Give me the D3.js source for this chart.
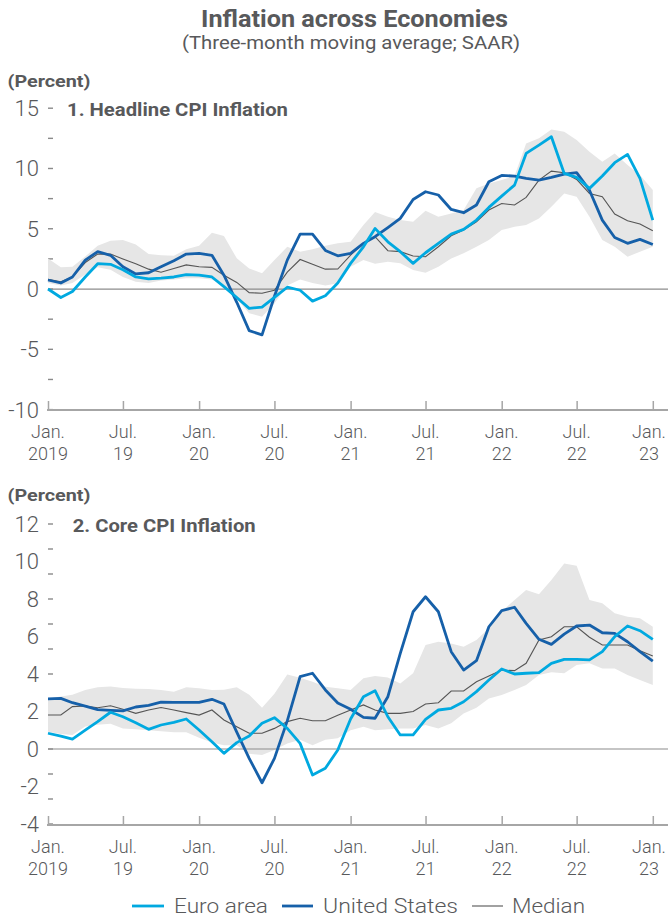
<!DOCTYPE html>
<html><head><meta charset="utf-8">
<script src="https://cdn.jsdelivr.net/npm/d3@7"></script>
<style>
html,body{margin:0;padding:0;background:#fff;}
svg{display:block;font-family:Roboto,"Open Sans",sans-serif;}
</style></head>
<body>
<svg id="chart" width="668" height="917"></svg>
<script>
// ---------- DATA (monthly, Jan 2019 – Jan 2023) ----------
const startMonth = [2019, 0];
const endMonth = [2023, 0];

const euroHead = [0.0,-0.7,-0.2,1.0,2.1,2.05,1.6,1.0,0.85,0.9, 1.0,1.2,1.15,1.0,0.2,-0.7,-1.6,-1.5,-0.7,0.15, -0.1,-1.0,-0.55,0.5,2.13,3.5,5.03,3.92,3.1,2.13, 3.01,3.79,4.56,4.95,5.72,6.77,7.71,8.62,11.25,11.94, 12.63,9.59,9.26,8.35,9.37,10.48,11.17,9.18,5.72];
const usHead   = [0.75,0.5,1.0,2.4,3.1,2.8,1.85,1.25,1.35,1.85, 2.35,2.9,2.95,2.8,1.15,-1.1,-3.45,-3.8,-0.6,2.4, 4.55,4.55,3.2,2.76,2.96,3.79,4.34,5.1,5.86,7.43, 8.07,7.8,6.6,6.33,6.97,8.9,9.42,9.37,9.18,9.04, 9.26,9.54,9.65,8.2,5.72,4.28,3.79,4.12,3.7];
const medHead  = [0.8,0.6,1.0,2.2,2.9,2.9,2.5,2.1,1.65,1.4, 1.7,2.0,1.85,1.8,1.15,0.55,-0.3,-0.35,-0.1,1.4, 2.45,2.05,1.65,1.66,2.82,3.79,4.34,3.18,3.1,2.74, 2.68,3.51,4.42,4.89,5.58,6.55,7.1,6.97,7.6,9.04, 9.78,9.65,9.09,7.93,7.66,6.22,5.67,5.39,4.84];
const hiHead   = [2.54,1.8,1.85,2.7,3.6,4.0,4.06,3.7,2.9,2.8, 2.76,3.3,3.6,4.67,4.4,2.55,1.7,1.3,2.4,3.5, 3.1,3.3,3.6,3.79,3.93,5.31,6.4,6.0,5.72,5.58, 6.49,6.0,6.27,6.55,8.35,8.76,9.04,9.37,12.08,12.5, 13.24,13.05,12.36,11.39,10.56,11.25,10.28,9.45,8.21];
const loHead   = [0.5,0.3,0.5,1.2,1.8,1.6,1.0,0.6,0.5,0.7, 0.8,0.9,0.9,0.8,0.3,-0.8,-2.0,-2.3,-1.2,0.3, 0.8,0.5,0.3,0.47,1.85,2.4,2.1,2.26,2.13,1.58, 1.36,1.85,2.54,2.96,3.51,4.06,4.89,5.17,5.31,5.86, 6.83,7.93,7.66,6.0,4.06,3.51,2.68,3.1,3.51];

const euroCore = [0.84,0.69,0.53,1.01,1.46,1.96,1.72,1.4,1.05,1.28, 1.42,1.6,1.01,0.39,-0.23,0.34,0.69,1.37,1.67,1.1, 0.3,-1.39,-1.03,-0.05,1.6,2.79,3.11,1.72,0.75,0.75, 1.58,2.08,2.17,2.52,3.06,3.68,4.27,4.0,4.04,4.07, 4.57,4.78,4.78,4.75,5.19,5.99,6.56,6.31,5.85];
const usCore   = [2.67,2.7,2.47,2.29,2.1,2.06,2.03,2.24,2.33,2.5, 2.49,2.49,2.49,2.65,2.4,0.9,-0.5,-1.8,-0.5,1.5, 3.86,4.04,3.15,2.45,2.12,1.69,1.64,2.79,5.1,7.32, 8.12,7.32,5.19,4.21,4.71,6.52,7.38,7.56,6.7,5.85, 5.58,6.13,6.56,6.61,6.2,6.17,5.72,5.19,4.69];
const medCore  = [1.81,1.81,2.26,2.29,2.2,2.31,2.12,1.9,2.08,2.21, 2.08,1.94,1.81,2.08,1.55,1.19,0.84,0.84,1.1,1.46, 1.64,1.51,1.51,1.8,2.08,2.35,2.08,1.9,1.9,2.0, 2.4,2.47,3.09,3.09,3.59,3.89,4.21,4.18,4.57,5.81, 5.99,6.52,6.52,5.96,5.55,5.55,5.55,5.24,4.96];
const hiCore   = [2.7,2.8,2.9,3.15,3.3,3.33,3.25,3.22,3.2,3.15, 3.05,3.29,3.24,3.15,3.16,3.3,2.9,2.2,2.95,3.97, 3.8,3.59,3.32,3.24,3.15,3.77,3.89,3.82,3.5,4.04, 5.55,5.72,5.63,5.46,5.81,6.44,7.33,7.95,8.48,8.25, 9.01,9.9,9.78,7.95,7.77,7.24,7.06,6.97,6.52];
const loCore   = [0.92,0.8,0.75,1.2,1.3,1.35,1.1,1.05,1.0,0.95, 0.9,0.9,0.6,0.35,0.2,0.2,-0.25,-0.32,-0.05,0.3, 0.5,0.2,0.5,0.57,1.0,1.19,1.0,1.05,1.1,1.1, 1.28,1.1,1.37,1.9,2.2,2.7,2.88,3.15,3.41,3.95, 4.09,4.04,4.48,4.57,4.3,4.3,3.95,3.68,3.41];

const headYLabels = [15, 10, 5, 0, -5, -10];
const coreYLabels = [12, 10, 8, 6, 4, 2, 0, -2, -4];
const xTickLabels = [["Jan.","2019"],["Jul.","19"],["Jan.","20"],["Jul.","20"],["Jan.","21"],["Jul.","21"],["Jan.","22"],["Jul.","22"],["Jan.","23"]];
const seriesNames = ["Euro area", "United States", "Median"];

// ---------- STYLE ----------
const C = {euro:"#00A9E0", us:"#1660A9", med:"#555555", band:"#E6E6E6", text:"#58595B", axis:"#A6A6A6", zero:"#8C8C8C"};

const svg = d3.select("#chart");
const months = d3.timeMonth.range(new Date(startMonth[0], startMonth[1], 1), new Date(endMonth[0], endMonth[1] + 1, 1));
const x = d3.scaleTime().domain([months[0], months[months.length - 1]]).range([48, 652.8]);
const xTickDates = d3.timeMonth.every(6).range(months[0], new Date(endMonth[0], endMonth[1] + 1, 1));

function fitText(sel, w) {
  sel.attr("textLength", w).attr("lengthAdjust", "spacingAndGlyphs");
}

// titles
svg.append("text").attr("x", 354.5).attr("y", 27).attr("text-anchor", "middle")
  .attr("font-size", 23).attr("font-weight", 700).attr("fill", C.text)
  .text("Inflation across Economies").call(fitText, 307);
svg.append("text").attr("x", 351).attr("y", 48.5).attr("text-anchor", "middle")
  .attr("font-size", 18).attr("font-weight", 400).attr("fill", C.text)
  .text("(Three-month moving average; SAAR)").call(fitText, 338);

const panels = [
  {title: "1. Headline CPI Inflation", titleX: 67, titleY: 116, titleW: 221, percentY: 86.5,
   euro: euroHead, us: usHead, med: medHead, hi: hiHead, lo: loHead,
   domain: [-10, 15], range: [409.6, 108.2], marks: d3.range(-10, 15.01, 2.5), labels: headYLabels, axisY: 410},
  {title: "2. Core CPI Inflation", titleX: 72.7, titleY: 531.7, titleW: 183, percentY: 501,
   euro: euroCore, us: usCore, med: medCore, hi: hiCore, lo: loCore,
   domain: [-4, 12], range: [824, 524], marks: d3.range(-4, 12.01, 4 / 3), labels: coreYLabels, axisY: 825}
];

panels.forEach(p => {
  const y = d3.scaleLinear().domain(p.domain).range(p.range);
  const g = svg.append("g");

  g.append("text").attr("x", 7.5).attr("y", p.percentY).attr("font-size", 17).attr("font-weight", 700)
    .attr("fill", C.text).text("(Percent)").call(fitText, 83);

  // y tick marks
  g.selectAll(".ym").data(p.marks).join("line")
    .attr("x1", 48).attr("x2", 53).attr("y1", d => y(d)).attr("y2", d => y(d))
    .attr("stroke", "#8a8a8a").attr("stroke-width", 1.4);
  // y labels
  g.selectAll(".yl").data(p.labels).join("text")
    .attr("x", 39).attr("y", d => y(d)).attr("dy", "0.36em").attr("text-anchor", "end")
    .attr("font-size", 22).attr("font-weight", 300).attr("fill", C.text)
    .text(d => d);

  // band
  const area = d3.area().x((d, i) => x(months[i])).y0((d, i) => y(p.lo[i])).y1((d, i) => y(p.hi[i]));
  g.append("path").datum(p.hi).attr("d", area).attr("fill", C.band);

  // zero line
  g.append("line").attr("x1", 48).attr("x2", 668).attr("y1", y(0)).attr("y2", y(0))
    .attr("stroke", C.zero).attr("stroke-width", 1.2);

  // x axis
  g.append("line").attr("x1", 47).attr("x2", 668).attr("y1", p.axisY).attr("y2", p.axisY)
    .attr("stroke", C.axis).attr("stroke-width", 2);
  const ax = g.append("g").attr("transform", `translate(0,${p.axisY})`)
    .call(d3.axisBottom(x).tickValues(xTickDates).tickSize(-9).tickSizeOuter(0).tickFormat(""));
  ax.select(".domain").remove();
  ax.selectAll(".tick line").attr("stroke", C.axis).attr("stroke-width", 1.5);
  const lab = g.selectAll(".xl").data(xTickDates).join("text")
    .attr("text-anchor", "middle").attr("font-size", 18).attr("font-weight", 300).attr("fill", C.text);
  lab.each(function(d, i) {
    const t = d3.select(this);
    const cx = Math.min(x(d), 649);
    t.append("tspan").attr("x", cx).attr("y", p.axisY + 28).text(xTickLabels[i][0]);
    t.append("tspan").attr("x", cx).attr("y", p.axisY + 50).text(xTickLabels[i][1]);
  });

  // lines
  const line = d3.line().x((d, i) => x(months[i])).y(d => y(d));
  g.append("path").datum(p.med).attr("d", line).attr("fill", "none").attr("stroke", C.med).attr("stroke-width", 1.1);
  g.append("path").datum(p.us).attr("d", line).attr("fill", "none").attr("stroke", C.us).attr("stroke-width", 2.8).attr("stroke-linejoin", "round");
  g.append("path").datum(p.euro).attr("d", line).attr("fill", "none").attr("stroke", C.euro).attr("stroke-width", 2.8).attr("stroke-linejoin", "round");

  // panel title
  g.append("text").attr("x", p.titleX).attr("y", p.titleY).attr("font-size", 19).attr("font-weight", 700)
    .attr("fill", C.text).text(p.title).call(fitText, p.titleW);
});

// legend
const legendItems = [
  {name: seriesNames[0], color: C.euro, w: 2.8, x1: 132, x2: 164, tx: 174, tw: 94},
  {name: seriesNames[1], color: C.us, w: 2.8, x1: 282, x2: 313, tx: 323, tw: 135},
  {name: seriesNames[2], color: C.med, w: 1.1, x1: 472, x2: 503, tx: 512, tw: 73}
];
const lg = svg.append("g");
legendItems.forEach(it => {
  lg.append("line").attr("x1", it.x1).attr("x2", it.x2).attr("y1", 906).attr("y2", 906)
    .attr("stroke", it.color).attr("stroke-width", it.w);
  lg.append("text").attr("x", it.tx).attr("y", 913).attr("font-size", 21).attr("font-weight", 300)
    .attr("fill", C.text).text(it.name).call(fitText, it.tw);
});
</script>
</body></html>
